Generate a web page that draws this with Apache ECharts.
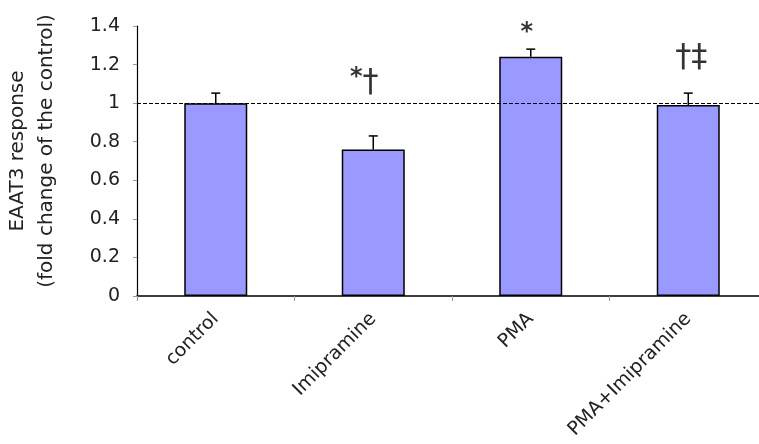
<!DOCTYPE html>
<html><head><meta charset="utf-8">
<script src="https://cdn.jsdelivr.net/npm/echarts@6/dist/echarts.min.js"></script>
<style>html,body{margin:0;padding:0;background:#fff;overflow:hidden}#c{width:759px;height:444px}</style>
</head><body><div id="c"></div>
<script>
const categories = ['control', 'Imipramine', 'PMA', 'PMA+Imipramine'];
const means = [1.00, 0.76, 1.24, 0.99];
const errors = [0.052, 0.07, 0.04, 0.062];
const annotations = ['', '*\u2020', '*', '\u2020\u2021'];
const yTicks = [0, 0.2, 0.4, 0.6, 0.8, 1, 1.2, 1.4];
const refLine = 1;

const annOffsets = [[0, 0], [-9, -22], [-4, 20], [3, -4]];

function richAnn(s) {
  return s.split('').map(ch => ch === '*' ? '{s|*}' : '{d|' + ch + '}').join('');
}

const chart = echarts.init(document.getElementById('c'));
const font = '"DejaVu Sans", sans-serif';
chart.setOption({
  animation: false,
  grid: { left: 137, right: -8, top: 26, bottom: 148, outerBoundsMode: 'none', containLabel: false },
  xAxis: {
    type: 'category', data: categories,
    axisLine: { lineStyle: { color: '#000', width: 1.5 } },
    axisTick: { show: true, length: 5, lineStyle: { color: '#999' } },
    axisLabel: { rotate: 45, margin: 20, fontSize: 19, color: '#222', fontFamily: font }
  },
  yAxis: {
    type: 'value', min: 0, max: 1.4, interval: 0.2,
    name: 'EAAT3 response\n(fold change of the control)',
    nameLocation: 'middle', nameGap: 76, nameRotate: 90,
    nameTextStyle: { fontSize: 20, color: '#222', fontFamily: font, lineHeight: 29, padding: [0, 0, 0, 20] },
    splitLine: { show: false },
    axisLine: { show: true, lineStyle: { color: '#000', width: 1.2 } },
    axisTick: { show: true, length: 4, lineStyle: { color: '#999' } },
    axisLabel: { margin: 17, fontSize: 19, color: '#222', fontFamily: font,
      formatter: v => yTicks.includes(+v.toFixed(1)) ? String(+v.toFixed(1)) : '' }
  },
  series: [
    {
      type: 'bar', data: means, barWidth: '40%',
      itemStyle: { color: '#9999ff', borderColor: '#000', borderWidth: 1.5 },
      markLine: {
        silent: true, symbol: 'none', label: { show: false },
        lineStyle: { color: '#000', type: [4, 2], width: 1 },
        data: [{ yAxis: refLine }]
      },
      z: 2
    },
    {
      type: 'custom', z: 3,
      data: means.map((m, i) => [i, m, m + errors[i]]),
      renderItem: (params, api) => {
        const x = api.value(0);
        const p0 = api.coord([x, api.value(1)]);
        const p1 = api.coord([x, api.value(2)]);
        const hw = 4.5;
        return { type: 'group', children: [
          { type: 'line', shape: { x1: p0[0], y1: p0[1], x2: p1[0], y2: p1[1] }, style: { stroke: '#000', lineWidth: 1.5 } },
          { type: 'line', shape: { x1: p1[0] - hw, y1: p1[1], x2: p1[0] + hw, y2: p1[1] }, style: { stroke: '#000', lineWidth: 1.5 } }
        ]};
      }
    },
    {
      type: 'scatter', symbolSize: 0, z: 4,
      data: means.map((m, i) => ({ value: [i, m + errors[i]], label: { formatter: richAnn(annotations[i]), offset: annOffsets[i] } })),
      label: {
        show: true, position: 'top', distance: 14, color: '#000', fontFamily: font,
        rich: {
          s: { fontSize: 24, fontWeight: 'bold', color: '#000', fontFamily: font, verticalAlign: 'top', lineHeight: 34 },
          d: { fontSize: 32, color: '#000', fontFamily: font, lineHeight: 34 }
        }
      }
    }
  ]
});
</script></body></html>
